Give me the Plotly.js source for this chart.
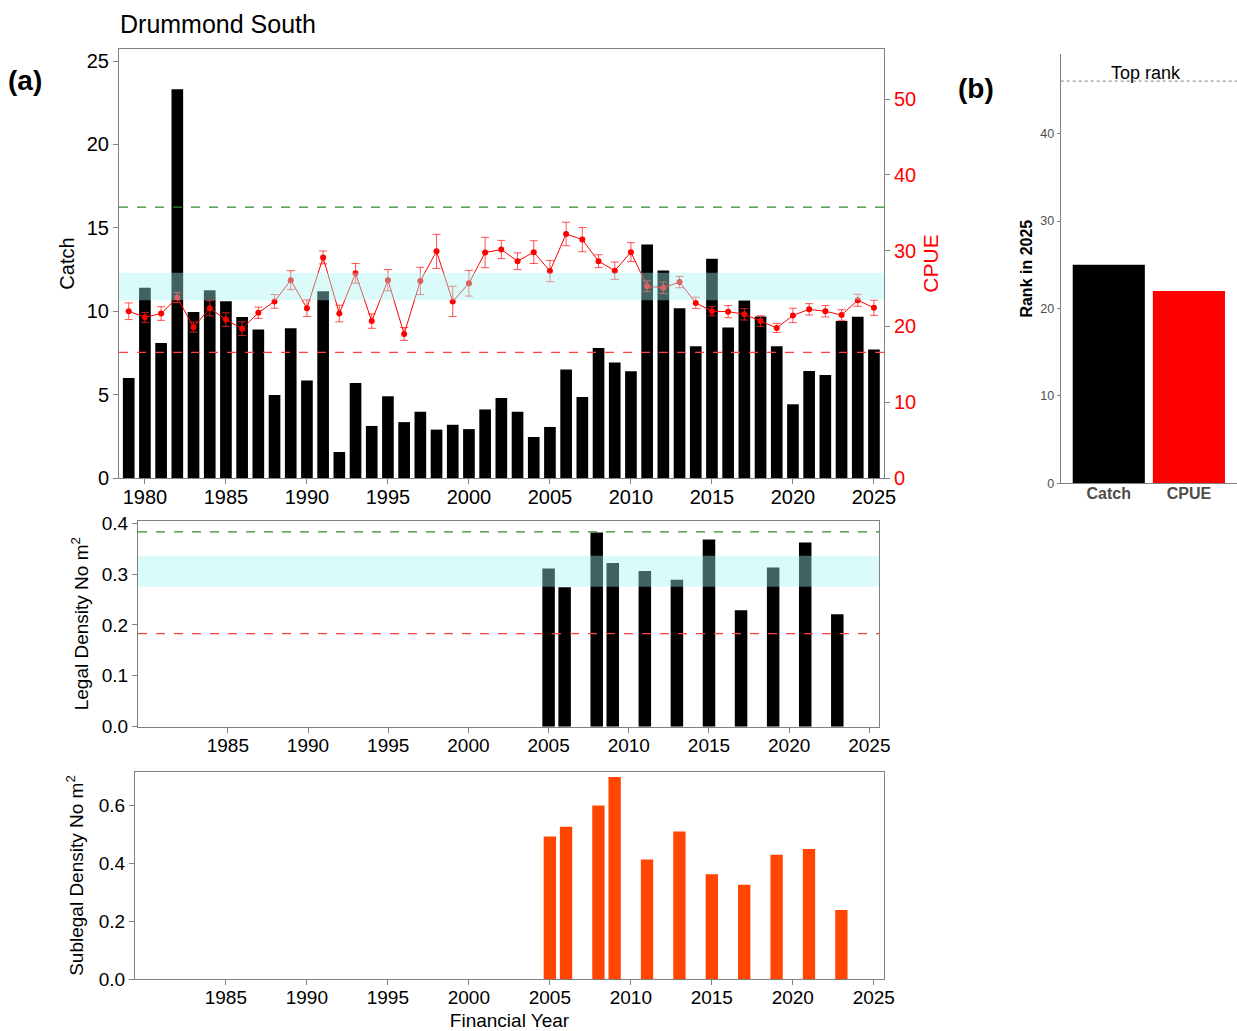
<!DOCTYPE html>
<html>
<head>
<meta charset="utf-8">
<script src="https://cdn.plot.ly/plotly-3.0.1.min.js"></script>
<style>
  html, body { margin: 0; padding: 0; background: #fff; }
  #chart { width: 1237px; height: 1031px; }
</style>
</head>
<body>
<div id="chart"></div>
<script>
// ---- Commercial catch and CPUE by financial year ----
const years = [1979, 1980, 1981, 1982, 1983, 1984, 1985, 1986, 1987, 1988,
               1989, 1990, 1991, 1992, 1993, 1994, 1995, 1996, 1997, 1998,
               1999, 2000, 2001, 2002, 2003, 2004, 2005, 2006, 2007, 2008,
               2009, 2010, 2011, 2012, 2013, 2014, 2015, 2016, 2017, 2018,
               2019, 2020, 2021, 2022, 2023, 2024, 2025];
const catchVals = [6.0, 11.4, 8.1, 23.3, 9.95, 11.25, 10.6, 9.65, 8.9, 4.97,
                   8.98, 5.85, 11.2, 1.56, 5.7, 3.12, 4.9, 3.35, 3.97, 2.9,
                   3.19, 2.93, 4.11, 4.8, 3.97, 2.46, 3.06, 6.5, 4.86, 7.8,
                   6.93, 6.4, 14.0, 12.44, 10.18, 7.9, 13.15, 9.03, 10.64, 9.68,
                   7.9, 4.42, 6.42, 6.18, 9.42, 9.66, 7.7];
const cpueVals = [22.0, 21.2, 21.7, 23.8, 19.9, 22.4, 20.9, 19.7, 21.8, 23.3,
                  26.1, 22.4, 29.1, 21.7, 27.0, 20.7, 26.1, 19.0, 26.0, 29.9,
                  23.3, 25.7, 29.75, 30.15, 28.6, 29.8, 27.3, 32.2, 31.45, 28.6,
                  27.35, 29.8, 25.3, 25.1, 25.85, 23.1, 22.0, 21.95, 21.6, 20.7,
                  19.8, 21.45, 22.25, 22.0, 21.5, 23.45, 22.45];
const cpueErr = [1.1, 0.65, 0.9, 0.65, 0.65, 1.0, 0.9, 0.9, 0.75, 0.9,
                 1.25, 1.1, 0.85, 1.1, 1.3, 0.95, 1.4, 0.85, 1.8, 2.25,
                 2.0, 1.7, 2.0, 1.2, 1.1, 1.5, 1.4, 1.55, 1.6, 0.85,
                 1.15, 1.25, 0.7, 0.75, 0.75, 0.75, 0.6, 0.8, 0.75, 0.7,
                 0.6, 0.95, 0.75, 0.75, 0.7, 0.8, 1.0];

// Catch reference levels: upper, lower and target band
const catchUpper = 16.24;
const catchLower = 7.53;
const catchBand = [10.65, 12.3];

// ---- Survey densities ----
const surveyYears = [2005, 2006, 2008, 2009, 2011, 2013, 2015, 2017, 2019, 2021, 2023];
const legalDensity = [0.311, 0.274, 0.382, 0.322, 0.306, 0.289, 0.368, 0.229, 0.313, 0.362, 0.221];
const sublegalDensity = [0.492, 0.525, 0.599, 0.697, 0.413, 0.509, 0.362, 0.326, 0.429, 0.449, 0.239];

const legalUpper = 0.383;
const legalLower = 0.183;
const legalBand = [0.275, 0.336];

// ---- Rank in the latest year ----
const rankLabels = ['Catch', 'CPUE'];
const rankVals = [25, 22];
const topRank = 46;

// Tick labels
const yearTicksTop = [1980, 1985, 1990, 1995, 2000, 2005, 2010, 2015, 2020, 2025];
const yearTicksLower = [1985, 1990, 1995, 2000, 2005, 2010, 2015, 2020, 2025];
const catchTicks = [0, 5, 10, 15, 20, 25];
const cpueTicks = [0, 10, 20, 30, 40, 50];
const legalTicks = [0, 0.1, 0.2, 0.3, 0.4];
const sublegalTicks = [0, 0.2, 0.4, 0.6];
const rankTicks = [0, 10, 20, 30, 40];

const W = 1237, H = 1031;
const px = v => v / W;          // horizontal pixel -> paper fraction
const py = v => 1 - v / H;      // vertical pixel -> paper fraction

const FONT = 'Liberation Sans, Arial, sans-serif';
const AXC = '#808080';
const bandFill = 'rgba(165,245,245,0.40)';

const traces = [
  {
    type: 'bar', x: years, y: catchVals, xaxis: 'x', yaxis: 'y',
    width: 0.72, marker: { color: '#000000', line: { width: 0 } }
  },
  {
    type: 'scatter', mode: 'lines+markers', x: years, y: cpueVals,
    xaxis: 'x', yaxis: 'y2',
    line: { color: '#ff0000', width: 1 },
    marker: { color: '#ff0000', size: 6 },
    error_y: { type: 'data', array: cpueErr, visible: true,
               color: 'rgba(255,40,40,0.8)', thickness: 1, width: 4 }
  },
  {
    type: 'bar', x: surveyYears, y: legalDensity, xaxis: 'x3', yaxis: 'y3',
    width: 0.78, marker: { color: '#000000', line: { width: 0 } }
  },
  {
    type: 'bar', x: surveyYears, y: sublegalDensity, xaxis: 'x4', yaxis: 'y4',
    width: 0.76, marker: { color: '#ff4500', line: { width: 0 } }
  },
  {
    type: 'bar', x: rankLabels, y: rankVals, xaxis: 'x5', yaxis: 'y5',
    width: 0.9, marker: { color: ['#000000', '#ff0000'], line: { width: 0 } }
  }
];

function hline(xref, yref, y, color, dash) {
  return { type: 'line', xref: xref + ' domain', yref: yref, x0: 0, x1: 1, y0: y, y1: y,
           layer: 'above', line: { color: color, width: 1.2, dash: dash } };
}
function hband(xref, yref, lo, hi) {
  return { type: 'rect', xref: xref + ' domain', yref: yref, x0: 0, x1: 1, y0: lo, y1: hi,
           layer: 'above', fillcolor: bandFill, line: { width: 0 } };
}

const shapes = [
  hband('x', 'y', catchBand[0], catchBand[1]),
  hline('x', 'y', catchUpper, '#2e8b2e', 'dash'),
  hline('x', 'y', catchLower, '#ff4040', 'dash'),
  hband('x3', 'y3', legalBand[0], legalBand[1]),
  hline('x3', 'y3', legalUpper, '#2e8b2e', 'dash'),
  hline('x3', 'y3', legalLower, '#ff4040', 'dash'),
  { type: 'line', xref: 'x5 domain', yref: 'y5', x0: 0, x1: 1, y0: topRank, y1: topRank,
    layer: 'above', line: { color: '#808080', width: 1, dash: 'dot' } }
];

const baseAxis = {
  showline: true, linecolor: AXC, linewidth: 1,
  ticks: 'outside', tickcolor: AXC, ticklen: 5, tickwidth: 1,
  showgrid: false, zeroline: false, fixedrange: true
};

const layout = {
  width: W, height: H,
  margin: { l: 0, r: 0, t: 0, b: 0 },
  paper_bgcolor: '#ffffff', plot_bgcolor: 'rgba(0,0,0,0)',
  showlegend: false,
  font: { family: FONT, color: '#000000' },
  title: { text: 'Drummond South', x: px(120), xanchor: 'left', xref: 'paper',
           y: py(24), yanchor: 'middle', font: { size: 25, family: FONT, color: '#000' } },
  xaxis: Object.assign({}, baseAxis, {
    domain: [px(119), px(884)], range: [1978.4, 2025.62], anchor: 'y',
    tickvals: yearTicksTop, tickfont: { size: 20 }, mirror: true,
    ticklabelstandoff: -4
  }),
  yaxis: Object.assign({}, baseAxis, {
    domain: [py(478), py(49)], range: [0, 25.72], anchor: 'x',
    tickvals: catchTicks, tickfont: { size: 20 }, mirror: true,
    title: { text: 'Catch', font: { size: 20 }, standoff: 6 }
  }),
  yaxis2: Object.assign({}, baseAxis, {
    overlaying: 'y', side: 'right', anchor: 'x', range: [0, 56.6],
    tickvals: cpueTicks, tickfont: { size: 20, color: '#ff0000' },
    title: { text: 'CPUE', font: { size: 21, color: '#ff0000' }, standoff: 8 }
  }),
  xaxis3: Object.assign({}, baseAxis, {
    domain: [px(138), px(879)], range: [1979.4, 2025.6], anchor: 'y3',
    tickvals: yearTicksLower, tickfont: { size: 19 }, mirror: true,
    ticklabelstandoff: -4
  }),
  yaxis3: Object.assign({}, baseAxis, {
    domain: [py(726.7), py(520.7)], range: [0, 0.405], anchor: 'x3',
    tickvals: legalTicks, tickformat: '.1f', tickfont: { size: 19 }, mirror: true,
    title: { text: 'Legal Density No m<sup>2</sup>', font: { size: 19 }, standoff: 8 }
  }),
  xaxis4: Object.assign({}, baseAxis, {
    domain: [px(135), px(884)], range: [1979.39, 2025.63], anchor: 'y4',
    tickvals: yearTicksLower, tickfont: { size: 19 }, mirror: true,
    ticklabelstandoff: -4,
    title: { text: 'Financial Year', font: { size: 19 }, standoff: 8 }
  }),
  yaxis4: Object.assign({}, baseAxis, {
    domain: [py(979.3), py(771.7)], range: [0, 0.715], anchor: 'x4',
    tickvals: sublegalTicks, tickformat: '.1f', tickfont: { size: 19 }, mirror: true,
    title: { text: 'Sublegal Density No m<sup>2</sup>', font: { size: 19 }, standoff: 10 }
  }),
  xaxis5: Object.assign({}, baseAxis, {
    domain: [px(1060.7), 1], range: [-0.6, 1.6], anchor: 'y5',
    type: 'category', ticks: '', ticklen: 0, ticklabelstandoff: -5,
    tickfont: { size: 16, color: '#4d4d4d', weight: 'bold' }
  }),
  yaxis5: Object.assign({}, baseAxis, {
    domain: [py(483.3), py(54)], range: [0, 49.1], anchor: 'x5',
    tickvals: rankTicks, ticklen: 3, tickfont: { size: 12.5, color: '#4d4d4d' },
    title: { text: 'Rank in 2025', font: { size: 16, weight: 'bold', color: '#000' }, standoff: 3 }
  }),
  shapes: shapes,
  annotations: [
    { text: '(a)', xref: 'paper', yref: 'paper', x: px(25), y: py(80),
      xanchor: 'center', yanchor: 'middle', showarrow: false,
      font: { size: 28, weight: 'bold', color: '#000' } },
    { text: '(b)', xref: 'paper', yref: 'paper', x: px(976), y: py(88),
      xanchor: 'center', yanchor: 'middle', showarrow: false,
      font: { size: 28, weight: 'bold', color: '#000' } },
    { text: 'Top rank', xref: 'paper', yref: 'paper', x: px(1146), y: py(73),
      xanchor: 'center', yanchor: 'middle', showarrow: false,
      font: { size: 18, color: '#000' } }
  ]
};

Plotly.newPlot('chart', traces, layout, { staticPlot: true, displayModeBar: false });
</script>
</body>
</html>
